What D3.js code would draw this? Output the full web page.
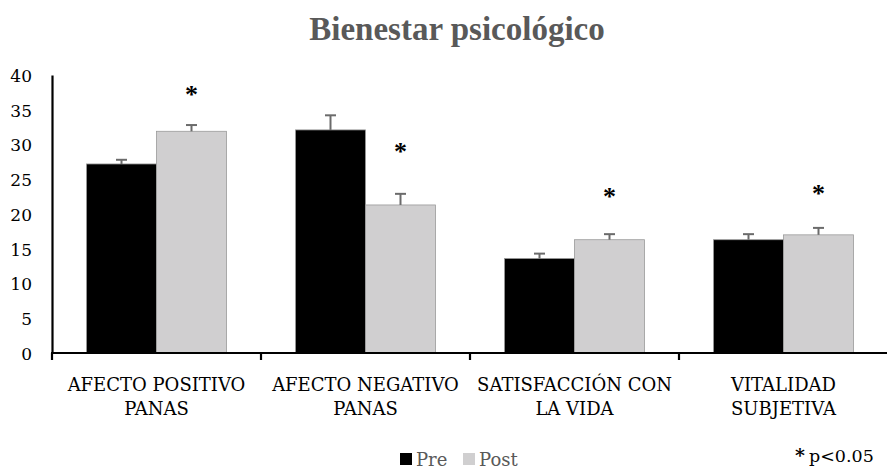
<!DOCTYPE html>
<html>
<head>
<meta charset="utf-8">
<script src="https://cdn.jsdelivr.net/npm/d3@7"></script>
<style>
  html, body { margin: 0; padding: 0; background: #fff; }
  svg { display: block; }
</style>
</head>
<body>
<svg id="chart" width="887" height="470"></svg>
<script>
// Scale categories (each label is split in two lines)
const categories = ["AFECTO POSITIVO|PANAS", "AFECTO NEGATIVO|PANAS", "SATISFACCIÓN CON|LA VIDA", "VITALIDAD|SUBJETIVA"];
const seriesNames = ["Pre", "Post"];
const preMeans = [27.2, 32.1, 13.6, 16.3];
const preErrors = [0.6, 2.1, 0.7, 0.8];
const postMeans = [31.9, 21.3, 16.3, 17.0];
const postErrors = [0.9, 1.6, 0.8, 1.0];
// Height (in scale units) where the significance asterisk sits above the Post bar
const postStarLevel = [37.4, 29.2, 22.7, 23.1];
const yTicks = [0, 5, 10, 15, 20, 25, 30, 35, 40];

const colors = { Pre: "#000000", Post: "#d0cfd0" };
const SERIF_BOLD = "'Liberation Serif', 'Times New Roman', serif";
const SERIF = "'DejaVu Serif', serif";

const svg = d3.select("#chart");
const margin = { left: 52, right: 0, top: 75, bottom: 117 };
const width = 887, height = 470;

const x = d3.scaleBand().domain(categories).range([margin.left, 52 + 4 * 209]).paddingInner(0).paddingOuter(0);
const inner = d3.scaleBand().domain(seriesNames).range([34.5, 209 - 34.5]).padding(0);
const y = d3.scaleLinear().domain([0, 40]).range([height - margin.bottom, margin.top]);

// Title
svg.append("text")
  .attr("x", 457).attr("y", 40)
  .attr("text-anchor", "middle")
  .style("font-family", SERIF_BOLD)
  .attr("font-size", 33).attr("font-weight", "bold")
  .attr("fill", "#595959")
  .text("Bienestar psicológico");

const rows = categories.map((c, i) => ([
  { cat: c, s: "Pre", v: preMeans[i], e: preErrors[i] },
  { cat: c, s: "Post", v: postMeans[i], e: postErrors[i] }
])).flat();

// Bars
svg.append("g").selectAll("rect").data(rows).join("rect")
  .attr("x", d => x(d.cat) + inner(d.s))
  .attr("width", inner.bandwidth())
  .attr("y", d => y(d.v))
  .attr("height", d => y(0) - y(d.v))
  .attr("fill", d => colors[d.s])
  .attr("stroke", "#9a9a9a")
  .attr("stroke-width", 0.8);

// Error bars (upper only)
const eb = svg.append("g").attr("stroke", "#6b6b6b").attr("stroke-width", 2);
rows.forEach(d => {
  const cx = x(d.cat) + inner(d.s) + inner.bandwidth() / 2;
  eb.append("line").attr("x1", cx).attr("x2", cx).attr("y1", y(d.v)).attr("y2", y(d.v + d.e));
  eb.append("line").attr("x1", cx - 5.5).attr("x2", cx + 5.5).attr("y1", y(d.v + d.e)).attr("y2", y(d.v + d.e));
});

// Significance markers
svg.append("g").selectAll("text").data(categories).join("text")
  .attr("x", c => x(c) + inner("Post") + inner.bandwidth() / 2)
  .attr("y", (c, i) => y(postStarLevel[i]) + 10)
  .attr("text-anchor", "middle")
  .style("font-family", SERIF_BOLD)
  .attr("font-size", 26).attr("font-weight", "bold")
  .attr("fill", "#000")
  .text("*");

// Y axis
const yAxis = svg.append("g")
  .attr("transform", `translate(${margin.left},0)`)
  .call(d3.axisLeft(y).tickValues(yTicks).tickSize(0).tickPadding(20));
yAxis.attr("font-family", null);
yAxis.select(".domain").attr("stroke", "#000").attr("stroke-width", 2.2);
yAxis.selectAll(".tick text")
  .style("font-family", SERIF).style("font-size", "17px")
  .attr("fill", "#000").attr("text-anchor", "end").attr("x", -20).attr("dy", "0.38em");

// X axis with boundary ticks between categories
const xAxis = svg.append("g").attr("transform", `translate(0,${y(0)})`);
xAxis.append("line")
  .attr("x1", margin.left - 1).attr("x2", width)
  .attr("stroke", "#000").attr("stroke-width", 2.2);
categories.forEach(c => {
  const bx = x(c);
  xAxis.append("line").attr("x1", bx).attr("x2", bx).attr("y1", 0).attr("y2", 7)
    .attr("stroke", "#000").attr("stroke-width", 2.2);
});

// Category labels
const labels = svg.append("g").selectAll("text").data(categories).join("text")
  .attr("x", c => x(c) + x.bandwidth() / 2)
  .attr("y", 391)
  .attr("text-anchor", "middle")
  .style("font-family", SERIF)
  .style("font-size", "18px").attr("fill", "#000");
labels.each(function (c) {
  const parts = c.split("|");
  const t = d3.select(this);
  parts.forEach((p, i) => {
    t.append("tspan").attr("x", x(c) + x.bandwidth() / 2).attr("dy", i === 0 ? 0 : 24).text(p);
  });
});

// Legend
const legend = svg.append("g").attr("transform", "translate(400,466)");
const legendX = { Pre: 0, Post: 63 };
seriesNames.forEach(s => {
  legend.append("rect").attr("x", legendX[s]).attr("y", -13).attr("width", 12).attr("height", 12).attr("fill", colors[s]);
  legend.append("text").attr("x", legendX[s] + 16).attr("y", 0)
    .style("font-family", SERIF)
    .style("font-size", "18px").attr("fill", "#595959").text(s);
});

// Significance note
const note = svg.append("text").attr("x", 795).attr("y", 462)
  .style("font-family", SERIF).style("font-size", "17.5px").attr("fill", "#000");
note.append("tspan").attr("font-weight", "bold").style("font-size", "19px").text("*");
note.append("tspan").attr("dx", 4).text("p<0.05");
</script>
</body>
</html>
